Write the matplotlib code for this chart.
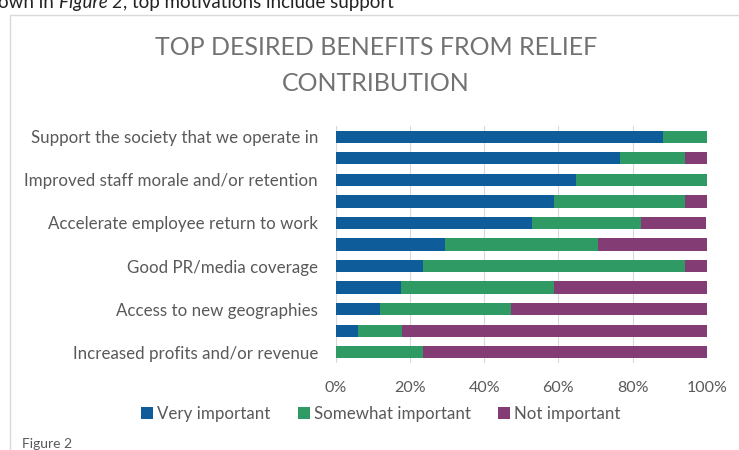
import numpy as np
import matplotlib.pyplot as plt
from matplotlib.patches import Rectangle

# survey answers (share of 17 respondents, %), top row first
categories = [
    "Support the society that we operate in", "",
    "Improved staff morale and/or retention", "",
    "Accelerate employee return to work", "",
    "Good PR/media coverage", "",
    "Access to new geographies", "",
    "Increased profits and/or revenue",
]
very_important = [88.2, 76.5, 64.7, 58.8, 52.9, 29.4, 23.5, 17.6, 11.8, 5.9, 0.0]
somewhat_important = [11.8, 17.6, 35.3, 35.3, 29.4, 41.2, 70.6, 41.2, 35.3, 11.8, 23.5]
not_important = [0.0, 5.9, 0.0, 5.9, 17.6, 29.4, 5.9, 41.2, 52.9, 82.4, 76.5]
series_names = ["Very important", "Somewhat important", "Not important"]
xticks = [0, 20, 40, 60, 80, 100]

colors = ["#0f5c9a", "#2f9a63", "#843c75"]
gray = "#595959"
font = "Lato"

fig = plt.figure(figsize=(7.39, 4.5), dpi=100)
W, H = 739, 450

# chart frame
fig.add_artist(Rectangle((10 / W, -0.1), 1.2, 1.1 - 15 / H, transform=fig.transFigure,
                         fill=False, edgecolor="#d9d9d9", linewidth=1.0, clip_on=False))

ax = fig.add_axes([336 / W, 1 - 363 / H, 370.7 / W, (363 - 126) / H])
y = np.arange(len(categories))
left = np.zeros(len(categories))
for vals, name, c in zip([very_important, somewhat_important, not_important], series_names, colors):
    vals = np.array(vals)
    ax.barh(y, vals, left=left, height=0.57, color=c, label=name, zorder=2)
    left += vals

ax.set_xlim(0, 100)
ax.set_ylim(len(categories) - 0.5, -0.5)
ax.set_yticks(y)
ax.set_yticklabels(categories, fontsize=12.2, color=gray, family=font)
ax.set_xticks(xticks)
ax.set_xticklabels([f"{t}%" for t in xticks], fontsize=11.5, color=gray, family=font)
ax.tick_params(axis="y", length=0, pad=13)
ax.tick_params(axis="x", length=0, pad=13)
ax.grid(axis="x", color="#d9d9d9", linewidth=0.8, zorder=0)
for s in ax.spines.values():
    s.set_visible(False)

fig.text(376 / W, 1 - 65.5 / H, "TOP DESIRED BENEFITS FROM RELIEF\nCONTRIBUTION",
         ha="center", va="center", fontsize=18, color="#727272", family=font,
         linespacing=1.65)

handles, labels = ax.get_legend_handles_labels()
fig.legend(handles, labels, loc="center", bbox_to_anchor=(381 / W, 1 - 414 / H), ncol=3,
           frameon=False, handlelength=0.7, handleheight=0.7, handletextpad=0.25,
           columnspacing=1.6, prop={"family": font, "size": 12.2}, labelcolor=gray)

# running text above the chart
t1 = fig.text(-2 / W, 1 - 11 / H, "own in ", fontsize=13.5, color="#222222", family=font, va="bottom")
t2 = ax.annotate("Figure 2", xy=(1, 0), xycoords=t1, va="bottom", fontsize=13.5,
                 color="#222222", family=font, style="italic", annotation_clip=False)
ax.annotate(", top motivations include support", xy=(1, 0), xycoords=t2, va="bottom",
            fontsize=13.5, color="#222222", family=font, annotation_clip=False)

fig.text(22 / W, 1 - 438 / H, "Figure 2", fontsize=10, color=gray, family=font, va="top")

fig.savefig("out.png", dpi=100)
